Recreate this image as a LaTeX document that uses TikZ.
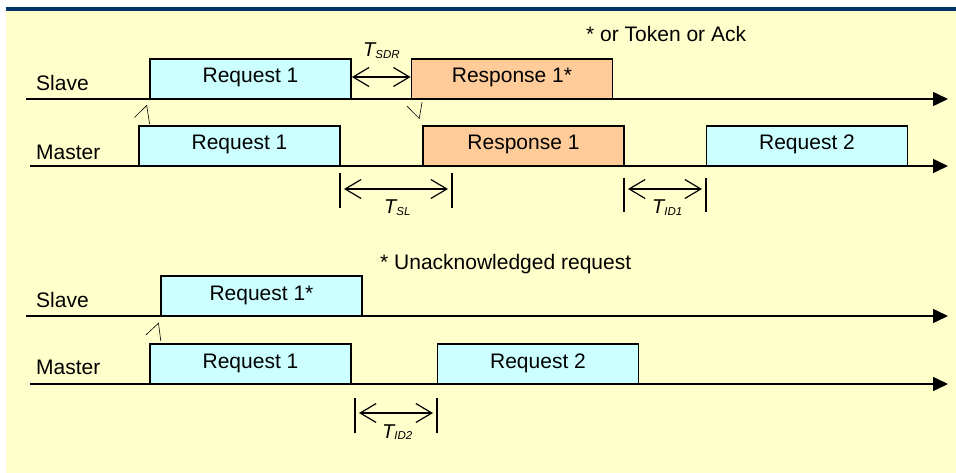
\documentclass[tikz,border=0pt]{standalone}
\usepackage{fontspec}
\setmainfont{Liberation Sans}
\usetikzlibrary{arrows.meta,calc}
\definecolor{panel}{RGB}{255,255,204}
\definecolor{topbar}{RGB}{0,51,102}
\definecolor{reqfill}{RGB}{204,255,255}
\definecolor{respfill}{RGB}{255,204,153}
% T with a small italic subscript, as used for the timing intervals
\newcommand\timesym[1]{T\raisebox{-1.8pt}{\fontsize{11.5}{12}\selectfont #1}}
\begin{document}
\begin{tikzpicture}[x=1pt,y=-1pt,
  frame/.style={draw=black,line width=1.8pt,minimum width=201pt,minimum height=40pt,
    inner sep=0pt,text height=15pt,text depth=7pt,font=\fontsize{21}{25}\selectfont},
  reqbox/.style={frame,fill=reqfill},
  respbox/.style={frame,fill=respfill},
  timeline/.style={line width=1.6pt,-{Triangle[length=15pt,width=14pt]}},
  plainlabel/.style={anchor=base west,inner sep=0pt,font=\fontsize{21}{25}\selectfont},
  timelabel/.style={anchor=base west,inner sep=0pt,font=\fontsize{20}{24}\selectfont\itshape},
  dimarrow/.style={line width=1.2pt,
    {Straight Barb[length=16pt,width=19pt]}-{Straight Barb[length=16pt,width=19pt]}},
  limit/.style={line width=1.2pt},
  signalup/.style={line width=0.6pt,-{Straight Barb[left,length=10pt,width=28pt]}},
  signaldown/.style={line width=0.6pt,-{Straight Barb[right,length=10pt,width=28pt]}},
]
% page, panel and title rule
\fill[white] (0,0) rectangle (956,473);
\fill[panel] (6,11) rectangle (956,473);
\fill[topbar] (6,7) rectangle (956,11);
\useasboundingbox (0,0) rectangle (956,473);

% ---------- acknowledged exchange ----------
\coordinate (s1a) at (26,99);  \coordinate (s1b) at (948,99);
\coordinate (m1a) at (30,166); \coordinate (m1b) at (948,166);
\draw[timeline] (s1a) -- (s1b);
\draw[timeline] (m1a) -- (m1b);
\node[plainlabel] (slave1) at (36,90.7) {Slave};
\node[plainlabel] (master1) at (36,159.3) {Master};

\node[reqbox]  (sreq1) at (250.5,79)  {Request 1};
\node[respbox] (sresp) at (512,79)    {Response 1*};
\node[reqbox]  (mreq1) at (239.5,146) {Request 1};
\node[respbox] (mresp) at (523.5,146) {Response 1};
\node[reqbox]  (mreq2) at (807,146)   {Request 2};

\node[plainlabel] (note1) at (586,41.7) {* or Token or Ack};

% request reaches the slave, response reaches the master
\draw[signalup] ($(sreq1.south west)+(0.5,24)$) -- ($(sreq1.south west)+(-2.5,5)$);
\draw[signaldown] ($(mresp.north west)+(0,-23)$) -- ($(mresp.north west)+(-3,-6)$);

% T_SDR
\draw[dimarrow] ([yshift=2pt]sreq1.east) -- ([yshift=2pt]sresp.west);
\node[timelabel] (tsdr) at (363,56.7) {\timesym{SDR}};

% T_SL
\coordinate (sla) at (340,173); \coordinate (slb) at (340,208);
\coordinate (slc) at (452,173); \coordinate (sld) at (452,208);
\draw[limit] (sla) -- (slb);
\draw[limit] (slc) -- (sld);
\coordinate (slx) at (344,189); \coordinate (sly) at (448,189);
\draw[dimarrow] (slx) -- (sly);
\node[timelabel] (tsl) at (384,214) {\timesym{SL}};

% T_ID1
\coordinate (ida) at (624,178); \coordinate (idb) at (624,212);
\coordinate (idc) at (706,178); \coordinate (idd) at (706,212);
\draw[limit] (ida) -- (idb);
\draw[limit] (idc) -- (idd);
\coordinate (idx) at (628,189); \coordinate (idy) at (702,189);
\draw[dimarrow] (idx) -- (idy);
\node[timelabel] (tid1) at (652,214) {\timesym{ID1}};

% ---------- unacknowledged request ----------
\coordinate (s2a) at (26,316);  \coordinate (s2b) at (948,316);
\coordinate (m2a) at (30,384);  \coordinate (m2b) at (948,384);
\draw[timeline] (s2a) -- (s2b);
\draw[timeline] (m2a) -- (m2b);
\node[plainlabel] (slave2) at (36,307.3) {Slave};
\node[plainlabel] (master2) at (36,374) {Master};

\node[reqbox] (sreqb)  at (261.5,296) {Request 1*};
\node[reqbox] (mreqb1) at (250.5,364) {Request 1};
\node[reqbox] (mreqb2) at (538,364)   {Request 2};

\node[plainlabel] (note2) at (380,269.3) {* Unacknowledged request};

\draw[signalup] ($(sreqb.south west)+(0.7,24)$) -- ($(sreqb.south west)+(-1.7,5.7)$);

% T_ID2
\coordinate (jda) at (355,398); \coordinate (jdb) at (355,433);
\coordinate (jdc) at (437,398); \coordinate (jdd) at (437,433);
\draw[limit] (jda) -- (jdb);
\draw[limit] (jdc) -- (jdd);
\coordinate (jdx) at (359,413); \coordinate (jdy) at (433,413);
\draw[dimarrow] (jdx) -- (jdy);
\node[timelabel] (tid2) at (382,438) {\timesym{ID2}};
\end{tikzpicture}
\end{document}
